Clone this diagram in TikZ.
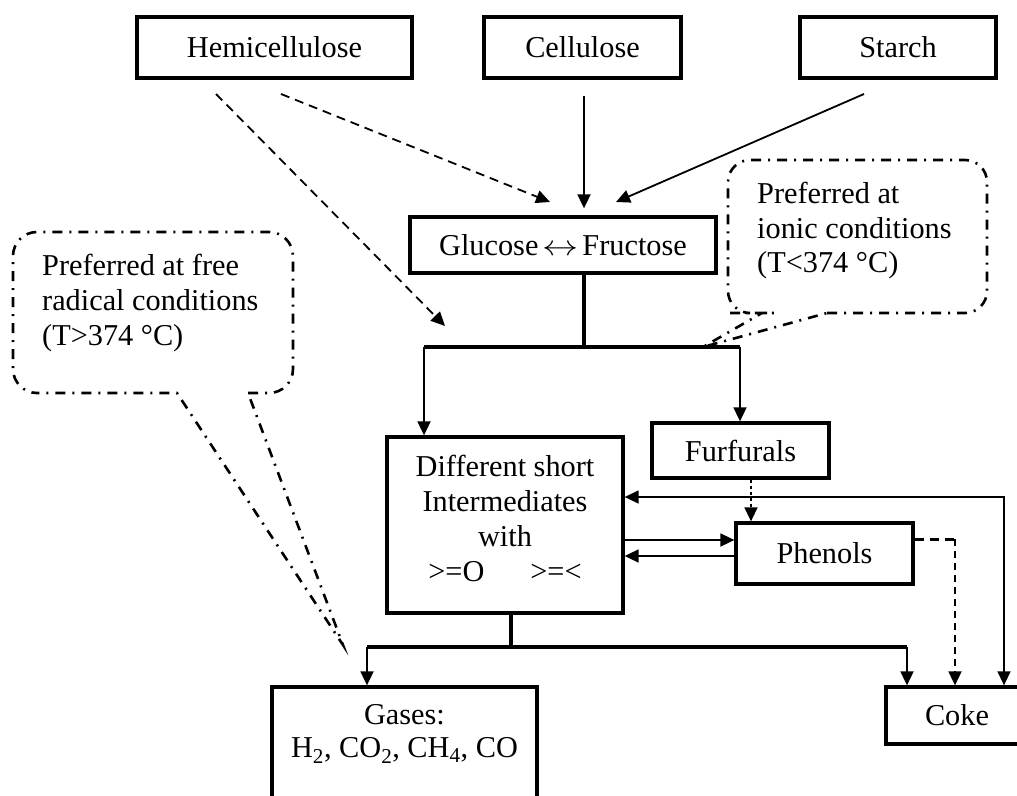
\documentclass[tikz,border=0pt]{standalone}
\usepackage{fontspec}
\usepackage{graphicx}
\setmainfont{Liberation Serif}
\usetikzlibrary{arrows.meta,calc}
\begin{document}
\begin{tikzpicture}[x=1pt,y=-1pt,
  txt/.style={font=\fontsize{30.3}{35}\selectfont, inner sep=0pt},
  box/.style={draw, line width=3.3pt, inner sep=0pt, font=\fontsize{30.3}{35}\selectfont},
  arr/.style={line width=1.8pt, -{Triangle[length=14pt,width=13pt]}},
  thickline/.style={line width=3.5pt},
  hemidash/.style={arr, dash pattern=on 9pt off 6pt},
  callout/.style={line width=2.6pt, dash pattern=on 10pt off 7pt on 2pt off 7pt}]
\useasboundingbox (0,0) rectangle (1017,795);
\clip (0,0) rectangle (1017,795);

% boxes
\node[box, minimum width=275pt, minimum height=61pt] (hemi) at (274.5,47.5) {Hemicellulose};
\node[box, minimum width=197pt, minimum height=61pt] (cell) at (582.5,47.5) {Cellulose};
\node[box, minimum width=196pt, minimum height=61pt] (starch) at (898,47.5) {Starch};
\node[box, minimum width=306pt, minimum height=56pt] (gluc) at (563,245) {Glucose\makebox[44pt]{\scalebox{1.45}[1.15]{$\leftrightarrow$}}Fructose};
\node[box, minimum width=236pt, minimum height=176pt] (diff) at (505,525) {};
\node[txt, align=center, anchor=north] (difftext) at (505,454.5) {Different short\\Intermediates\\with\\>=O\hspace{46pt}>=<};
\node[box, minimum width=177pt, minimum height=55pt] (furf) at (740.5,450.5) {Furfurals};
\node[box, minimum width=177pt, minimum height=61pt] (phen) at (824.5,553.5) {Phenols};
\node[box, minimum width=142pt, minimum height=57pt] (coke) at (957,715.5) {Coke};
\node[box, minimum width=265pt, minimum height=140pt] (gases) at (404.5,757) {};
\node[txt, align=center, anchor=north, font=\fontsize{30.3}{33}\selectfont] (gasestext) at (404.5,704.3) {Gases:\\H\textsubscript{2}, CO\textsubscript{2}, CH\textsubscript{4}, CO};

% callouts
\node[txt, align=left, anchor=north west] (freetext) at (42,254.3) {Preferred at free\\radical conditions\\(T>374 °C)};
\node[txt, align=left, anchor=north west, font=\fontsize{30.3}{34.5}\selectfont] (ionictext) at (757,182.3) {Preferred at\\ionic conditions\\(T<374 °C)};
\coordinate (freetip) at (343,645);
\coordinate (ionictip) at (703,347);
\draw[callout] (248,393) [rounded corners=24pt] -- (293,393) -- (293,232) -- (13,232) -- (13,393) -- (60,393) [sharp corners] -- (177,393) -- (freetip) -- cycle;
\draw[callout] (827,313) [rounded corners=22pt] -- (987,313) -- (987,160) -- (728,160) -- (728,313) -- (752,313) [sharp corners] -- (762,313) -- (ionictip) -- cycle;

% inputs to glucose
\coordinate (h1) at (281,94);
\coordinate (g1) at (550,202);
\coordinate (h2) at (216,94);
\coordinate (h2end) at (445,326);
\coordinate (s1) at (864,94);
\coordinate (g2) at (616,202);
\draw[hemidash] (h1) -- (g1);
\draw[hemidash] (h2) -- (h2end);
\draw[arr, shorten <=16pt, shorten >=7pt] ($(cell.south)+(1.5,0)$) -- ($(cell.south |- gluc.north)+(1.5,0)$);
\draw[arr] (s1) -- (g2);

% glucose to split
\coordinate (gout) at ($(gluc.south)+(21,0)$);
\coordinate (barM) at (584,347);
\coordinate (barL) at (424,347);
\coordinate (barR) at (740,347);
\draw[thickline] (gout) -- (barM);
\draw[thickline] (barL) -- (barR);
\draw[arr] (barL) -- (barL |- diff.north);
\draw[arr] (barR) -- (barR |- furf.north);

% furfurals to phenols
\coordinate (fx) at (751,0);
\draw[arr, line width=1.5pt, dash pattern=on 3pt off 3pt] (furf.south -| fx) -- (phen.north -| fx);

% intermediates <-> phenols
\draw[arr] ($(diff.east)+(0,15)$) -- ($(phen.west)+(0,-13.5)$);
\draw[arr] ($(phen.west)+(0,2.5)$) -- ($(diff.east)+(0,31)$);

% feedback coke <-> intermediates
\coordinate (fb) at (1004,497);
\draw[line width=1.5pt, {Triangle[length=14pt,width=13pt]}-{Triangle[length=14pt,width=13pt]}] ($(diff.east)+(0,-28)$) -- (fb) -- (fb |- coke.north);

% phenols to coke
\coordinate (pc) at (955,539);
\draw[line width=3pt, dash pattern=on 9pt off 6pt] ($(phen.east)+(0,-14.5)$) -- (pc);
\draw[arr, dash pattern=on 7pt off 5pt] (pc) -- (pc |- coke.north);

% intermediates to products
\coordinate (dout) at ($(diff.south)+(6,0)$);
\coordinate (bar2M) at (511,647);
\coordinate (bar2L) at (367,647);
\coordinate (bar2R) at (907,647);
\draw[thickline] (dout) -- (bar2M);
\draw[thickline] (bar2L) -- (bar2R);
\draw[arr] (bar2L) -- (bar2L |- gases.north);
\draw[arr] (bar2R) -- (bar2R |- coke.north);
\end{tikzpicture}
\end{document}
